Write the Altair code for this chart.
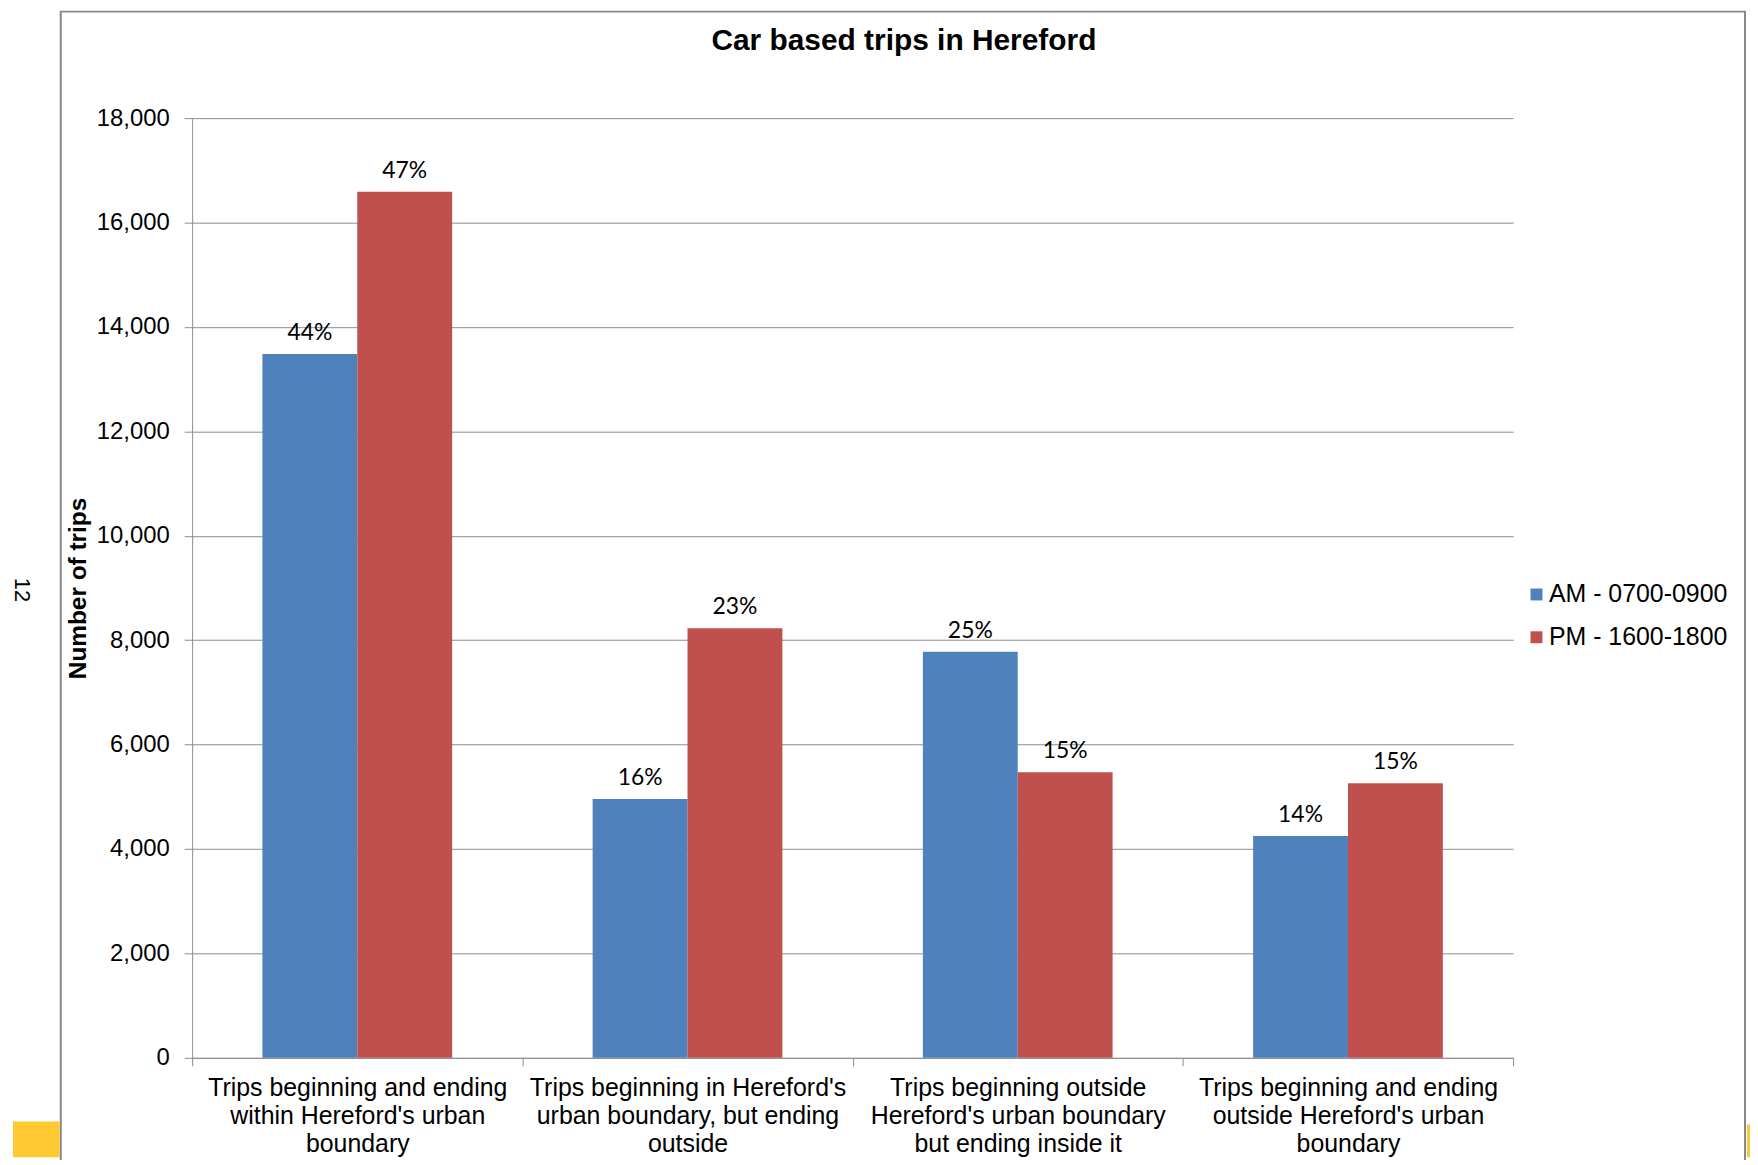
import altair as alt
import pandas as pd

# ---- data ----
categories = [
    "Trips beginning and ending|within Hereford's urban|boundary",
    "Trips beginning in Hereford's|urban boundary, but ending|outside",
    "Trips beginning outside|Hereford's urban boundary|but ending inside it",
    "Trips beginning and ending|outside Hereford's urban|boundary",
]
periods = ["AM - 0700-0900", "PM - 1600-1800"]
am_trips = [13480, 4960, 7780, 4250]
pm_trips = [16590, 8230, 5470, 5260]
am_pct = ["44%", "16%", "25%", "14%"]
pm_pct = ["47%", "23%", "15%", "15%"]
y_ticks = [0, 2000, 4000, 6000, 8000, 10000, 12000, 14000, 16000, 18000]
chart_title = "Car based trips in Hereford"
y_title = "Number of trips"
page_number = "12"

rows = []
for c, v, p in zip(categories, am_trips, am_pct):
    rows.append({"category": c, "period": periods[0], "trips": v, "pct": p})
for c, v, p in zip(categories, pm_trips, pm_pct):
    rows.append({"category": c, "period": periods[1], "trips": v, "pct": p})
df = pd.DataFrame(rows)

FONT = "Liberation Sans"
GRID = "#8C8C8C"
colors = ["#4F81BD", "#C0504D"]

W, H = 1327, 944

base = alt.Chart(df).encode(
    x=alt.X(
        "category:N",
        sort=categories,
        scale=alt.Scale(paddingInner=0, paddingOuter=0),
        axis=alt.Axis(
            title=None,
            labelExpr="split(datum.label, '|')",
            labelAngle=0,
            labelFont=FONT,
            labelFontSize=25,
            labelLineHeight=28,
            labelPadding=10,
            labelColor="#000000",
            labelBaseline="top",
            labelLimit=0,
            tickBand="extent",
            tickSize=8,
            tickColor=GRID,
            domainColor=GRID,
            grid=False,
        ),
    ),
    xOffset=alt.XOffset(
        "period:N", sort=periods, scale=alt.Scale(paddingInner=0, paddingOuter=0.7405)
    ),
)

bars = base.mark_bar().encode(
    y=alt.Y(
        "trips:Q",
        scale=alt.Scale(domain=[0, 18000]),
        axis=alt.Axis(
            values=y_ticks,
            format=",d",
            title=y_title,
            titleFont=FONT,
            titleFontSize=24.5,
            titleFontWeight="bold",
            titleColor="#000000",
            titlePadding=6,
            labelFont=FONT,
            labelFontSize=24,
            labelColor="#000000",
            labelPadding=15,
            tickSize=8,
            tickColor=GRID,
            domainColor=GRID,
            gridColor=GRID,
            gridWidth=1,
        ),
    ),
    color=alt.Color(
        "period:N",
        sort=periods,
        scale=alt.Scale(domain=periods, range=colors),
        legend=alt.Legend(
            title=None,
            orient="none",
            legendX=1338,
            legendY=466,
            symbolType="square",
            symbolSize=144,
            symbolStrokeWidth=0,
            labelFont=FONT,
            labelFontSize=25,
            labelColor="#000000",
            labelOffset=0,
            labelLimit=0,
            rowPadding=17,
            padding=0,
        ),
    ),
)

labels = base.mark_text(
    font="Lato", fontSize=23, baseline="alphabetic", dy=-14, color="#000000"
).encode(y="trips:Q", text="pct:N")

deco = pd.DataFrame({"k": [0]})

frame = alt.Chart(deco).mark_rect(filled=False, stroke="#878787", strokeWidth=2).encode(
    x=alt.value(-132), x2=alt.value(1560), y=alt.value(-107), y2=alt.value(1100)
)
yellow_left = alt.Chart(deco).mark_rect(color="#FFC934").encode(
    x=alt.value(-180), x2=alt.value(-133), y=alt.value(1008), y2=alt.value(1044)
)
yellow_right = alt.Chart(deco).mark_rect(color="#FFC934").encode(
    x=alt.value(1562), x2=alt.value(1570), y=alt.value(1011), y2=alt.value(1044)
)
pagenum = alt.Chart(deco).mark_text(
    text=page_number, font=FONT, fontSize=22, angle=90, align="center", baseline="middle", color="#000000"
).encode(x=alt.value(-171), y=alt.value(474))
title = alt.Chart(deco).mark_text(
    text=chart_title, font=FONT, fontSize=30, fontWeight="bold", align="center",
    baseline="alphabetic", color="#000000"
).encode(x=alt.value(715), y=alt.value(-68))

chart = alt.layer(frame, yellow_left, yellow_right, pagenum, title, bars, labels).properties(
    width=W,
    height=H,
    autosize=alt.AutoSizeParams(type="none"),
    padding={"left": 185, "top": 108, "right": 238, "bottom": 100},
    background="white",
).configure_view(strokeWidth=0)

chart.save("out.html", embed_options={"renderer": "svg", "actions": False})
